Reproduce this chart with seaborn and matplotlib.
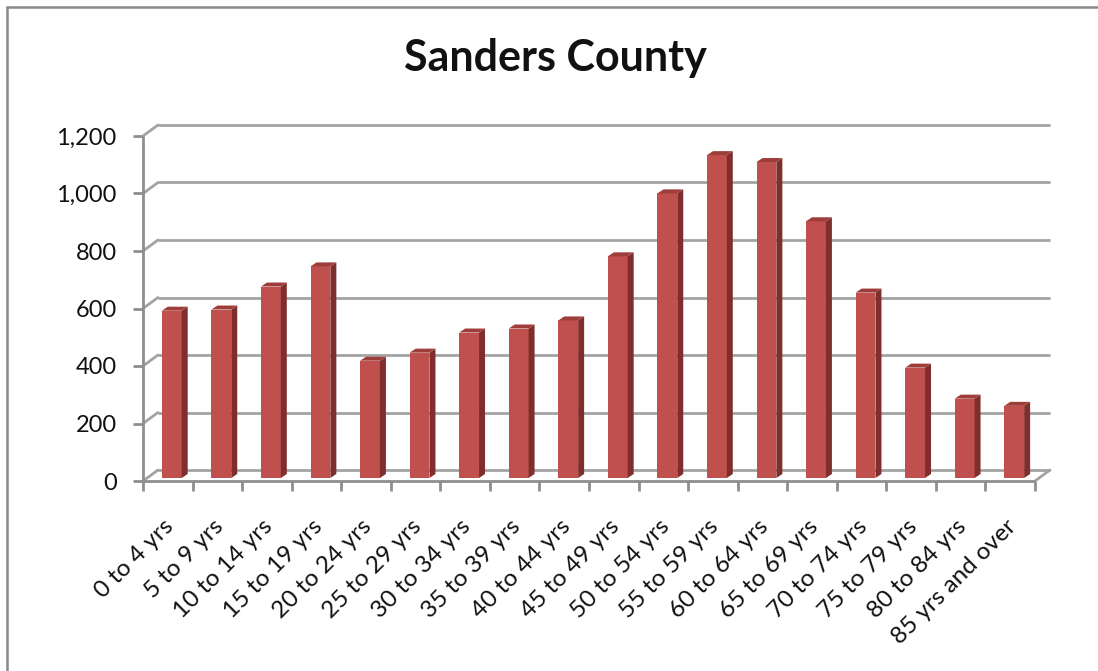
import matplotlib
matplotlib.use("Agg")
import matplotlib.pyplot as plt
import matplotlib.transforms as mtransforms
import seaborn as sns
import pandas as pd
from matplotlib.patches import Polygon
from matplotlib.lines import Line2D

# Population by age group
age_groups = ["0 to 4 yrs", "5 to 9 yrs", "10 to 14 yrs", "15 to 19 yrs",
              "20 to 24 yrs", "25 to 29 yrs", "30 to 34 yrs", "35 to 39 yrs",
              "40 to 44 yrs", "45 to 49 yrs", "50 to 54 yrs", "55 to 59 yrs",
              "60 to 64 yrs", "65 to 69 yrs", "70 to 74 yrs", "75 to 79 yrs",
              "80 to 84 yrs", "85 yrs and over"]
population = [582, 586, 666, 736, 408, 436, 506, 520, 548, 771,
              990, 1123, 1099, 893, 645, 384, 276, 251]
y_ticks = [0, 200, 400, 600, 800, 1000, 1200]
title = "Sanders County"

FRONT = "#C0504D"
SIDE = "#7E2F2D"
TOP = "#9E3D3A"
GRID = "#A3A3A3"
AXIS = "#8E8E8E"
TEXT = "#111111"

sns.set_theme(style="white")
plt.rcParams["font.family"] = ["Lato", "DejaVu Sans"]

W, H = 1098, 671
fig = plt.figure(figsize=(W / 100, H / 100), dpi=100)

# chart frame
fig.add_artist(Line2D([6.5 / W, 6.5 / W], [0, 1 - 6.5 / H], color="#8A8A8A", lw=1.8,
                      transform=fig.transFigure))
fig.add_artist(Line2D([6.5 / W, 1], [1 - 6.5 / H, 1 - 6.5 / H], color="#8A8A8A", lw=1.8,
                      transform=fig.transFigure))

left_px, right_px, bottom_px, top_px = 143, 1035, 481, 136
ax = fig.add_axes([left_px / W, 1 - bottom_px / H,
                   (right_px - left_px) / W, (bottom_px - top_px) / H])

df = pd.DataFrame({"age": age_groups, "pop": population})
sns.barplot(data=df, x="age", y="pop", color=FRONT, width=0.40, saturation=1,
            ax=ax, zorder=3)
ax.set_xlim(-0.5, len(age_groups) - 0.5)
ax.set_ylim(0, 1200)

for s in ax.spines.values():
    s.set_visible(False)
ax.set_xlabel("")
ax.set_ylabel("")
ax.grid(False)

fig.canvas.draw()
to_data = ax.transData.inverted().transform


def data_off(dx_px, dy_px):
    x0, y0 = to_data((0, 0))
    x1, y1 = to_data((dx_px, dy_px))
    return x1 - x0, y1 - y0


# back wall / floor depth
wdx, wdy = data_off(15, 11)
xmin, xmax = ax.get_xlim()
for v in y_ticks:
    ax.plot([xmin + wdx, xmax + wdx], [v + wdy, v + wdy], color=GRID, lw=2.0,
            zorder=1, clip_on=False, solid_capstyle="butt")
    ax.plot([xmin, xmin + wdx], [v, v + wdy], color=GRID, lw=2.0, zorder=1,
            clip_on=False)
# floor right edge, front edge and value axis
ax.plot([xmax, xmax + wdx], [0, wdy], color=GRID, lw=2.0, zorder=1, clip_on=False)
ax.plot([xmin, xmax], [0, 0], color=AXIS, lw=2.0, zorder=4, clip_on=False,
        solid_capstyle="butt")
ax.plot([xmin, xmin], [0, 1200], color=AXIS, lw=2.0, zorder=4, clip_on=False,
        solid_capstyle="butt")

# 3D column faces: bars sit mid-depth on the floor
bdx, bdy = data_off(4, 3)
sdx, sdy = data_off(6, 4)
for p in ax.patches:
    x0 = p.get_x() + bdx
    x1 = x0 + p.get_width()
    h = p.get_height()
    p.set_x(x0)
    p.set_y(bdy)
    p.set_edgecolor("none")
    side = Polygon([(x1, bdy), (x1 + sdx, bdy + sdy), (x1 + sdx, bdy + h + sdy),
                    (x1, bdy + h)], closed=True, facecolor=SIDE, edgecolor="none",
                   zorder=3, clip_on=False)
    top = Polygon([(x0, bdy + h), (x1, bdy + h), (x1 + sdx, bdy + h + sdy),
                   (x0 + sdx, bdy + h + sdy)], closed=True, facecolor=TOP,
                  edgecolor="none", zorder=3, clip_on=False)
    ax.add_patch(side)
    ax.add_patch(top)
    p.set_clip_on(False)

# ticks
ax.set_yticks(y_ticks)
ax.set_yticklabels([f"{v:,}" for v in y_ticks], fontsize=17, color=TEXT)
ax.tick_params(axis="y", length=7, width=2, color=AXIS, pad=12, left=True)

ax.set_xticks(range(len(age_groups)))
ax.set_xticklabels(age_groups, rotation=45, ha="right", rotation_mode="anchor",
                   fontsize=17.5, color=TEXT)
ax.tick_params(axis="x", length=0, pad=25)
shift = mtransforms.ScaledTranslation(-5 / 100, 0, fig.dpi_scale_trans)
for lbl in ax.get_xticklabels():
    lbl.set_transform(lbl.get_transform() + shift)
ax.set_xticks([i - 0.5 for i in range(len(age_groups) + 1)], minor=True)
ax.tick_params(axis="x", which="minor", length=7, width=2, color=AXIS, bottom=True)

fig.text(555 / W, 1 - 58 / H, title, ha="center", va="center", fontsize=31,
         fontweight="bold", color=TEXT)

fig.savefig("out.png", dpi=100)
